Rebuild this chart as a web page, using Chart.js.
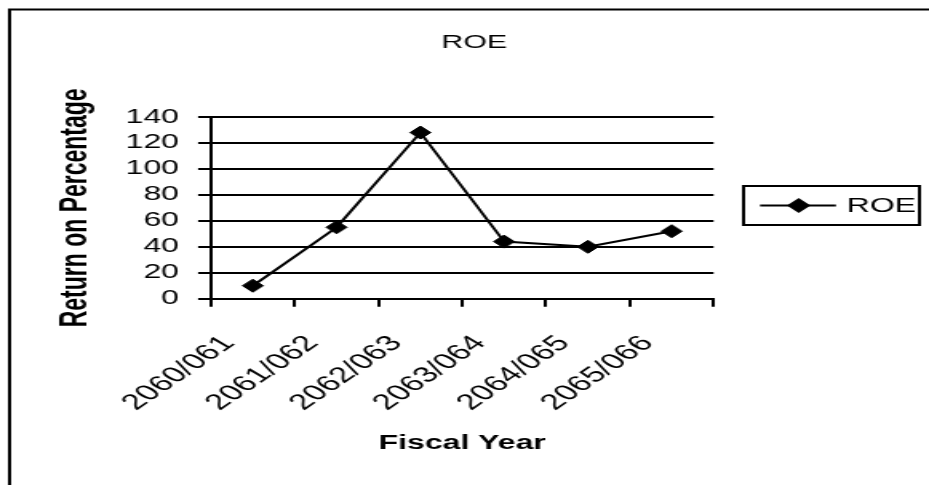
<!DOCTYPE html>
<html>
<head>
<meta charset="utf-8">
<script src="https://cdn.jsdelivr.net/npm/chart.js@4.4.1/dist/chart.umd.min.js"></script>
<style>
  html, body { margin: 0; padding: 0; background: #fff; overflow: hidden; }
  #wrap { width: 929px; height: 485px; overflow: hidden; }
  /* the chart is laid out on a narrower canvas and widened horizontally */
  #c { display: block; transform-origin: 0 0; transform: scaleX(1.599); }
</style>
</head>
<body>
<div id="wrap"><canvas id="c" width="581" height="485"></canvas></div>
<script>
const fiscalYears = ['2060/061', '2061/062', '2062/063', '2063/064', '2064/065', '2065/066'];
const roeValues = [10, 55, 128, 44, 40, 52];
const yTicks = [0, 20, 40, 60, 80, 100, 120, 140];
const seriesName = 'ROE';
const chartTitle = 'ROE';
const xAxisTitle = 'Fiscal Year';
const yAxisTitle = 'Return on Percentage';

const FONT = '"Liberation Sans", Arial, sans-serif';
const INK = '#000';

// Outer chart frame (left and top edges are visible)
const framePlugin = {
  id: 'frame',
  beforeDraw(chart) {
    const ctx = chart.ctx;
    ctx.save();
    ctx.strokeStyle = INK;
    ctx.lineWidth = 2;
    ctx.beginPath();
    ctx.moveTo(6, chart.height + 2);
    ctx.lineTo(6, 9.5);
    ctx.lineTo(chart.width + 2, 9.5);
    ctx.stroke();
    ctx.restore();
  }
};

// Boxed legend on the right: line sample with a diamond, then the series name
const boxedLegend = {
  id: 'boxedLegend',
  afterDraw(chart) {
    const ctx = chart.ctx;
    const ds = chart.data.datasets[0];
    const bx = 465, by = 186, bw = 110, bh = 39;
    const cy = by + bh / 2;
    ctx.save();
    ctx.strokeStyle = INK;
    ctx.lineWidth = 2;
    ctx.strokeRect(bx, by, bw, bh);
    ctx.beginPath();
    ctx.moveTo(475.3, cy);
    ctx.lineTo(522.8, cy);
    ctx.lineWidth = 2;
    ctx.stroke();
    ctx.fillStyle = INK;
    Chart.helpers.drawPoint(ctx, { pointStyle: 'rectRot', radius: 6, borderWidth: 1 }, 499.5, cy);
    ctx.fill();
    ctx.font = '20px ' + FONT;
    ctx.textBaseline = 'middle';
    ctx.textAlign = 'left';
    ctx.fillText(ds.label, 529.5, cy + 1);
    ctx.restore();
  }
};

new Chart(document.getElementById('c'), {
  type: 'line',
  data: {
    labels: fiscalYears,
    datasets: [{
      label: seriesName,
      data: roeValues,
      borderColor: INK,
      borderWidth: 2,
      backgroundColor: INK,
      pointStyle: 'rectRot',
      pointRadius: 6.5,
      pointBorderWidth: 1,
      pointBackgroundColor: INK,
      pointBorderColor: INK,
      tension: 0,
      fill: false
    }]
  },
  options: {
    responsive: false,
    animation: false,
    devicePixelRatio: 1,
    layout: { padding: { left: 12, right: 0, top: 0, bottom: 0 } },
    plugins: {
      legend: { display: false },
      tooltip: { enabled: false },
      title: {
        display: true,
        text: chartTitle,
        color: INK,
        font: { family: FONT, size: 19, weight: 'normal' },
        padding: { top: 31, bottom: 63.2 }
      }
    },
    scales: {
      x: {
        type: 'category',
        offset: true,
        grid: {
          display: true,
          offset: true,
          drawOnChartArea: false,
          drawTicks: true,
          tickLength: 8,
          color: INK,
          lineWidth: 2
        },
        border: { display: true, color: INK, width: 2 },
        ticks: {
          color: INK,
          font: { family: FONT, size: 22 },
          minRotation: 47,
          maxRotation: 47,
          autoSkip: false,
          padding: 24,
          labelOffset: -15
        },
        title: {
          display: true,
          text: xAxisTitle,
          color: INK,
          font: { family: FONT, size: 20, weight: 'bold' },
          padding: { top: 0, bottom: 29.5 }
        },
        afterFit(scale) { scale.height = 186.3; }
      },
      y: {
        min: yTicks[0],
        max: yTicks[yTicks.length - 1],
        grid: {
          color: INK,
          lineWidth: 2,
          drawTicks: true,
          tickLength: 8
        },
        border: { display: true, color: INK, width: 2 },
        ticks: {
          stepSize: yTicks[1] - yTicks[0],
          autoSkip: false,
          color: INK,
          font: { family: FONT, size: 20 },
          padding: 12
        },
        title: {
          display: true,
          text: yAxisTitle,
          color: INK,
          font: { family: FONT, size: 23, weight: 'bold' },
          padding: { top: 22.2, bottom: 0 }
        },
        afterFit(scale) { scale.width = 119.9; }
      },
      // empty right-hand axis that keeps room free for the legend box
      legendSpace: {
        axis: 'y',
        position: 'right',
        display: true,
        grid: { display: false, drawTicks: false },
        border: { display: false },
        ticks: { display: false },
        afterFit(scale) { scale.width = 134.75; }
      }
    }
  },
  plugins: [framePlugin, boxedLegend]
});
</script>
</body>
</html>
